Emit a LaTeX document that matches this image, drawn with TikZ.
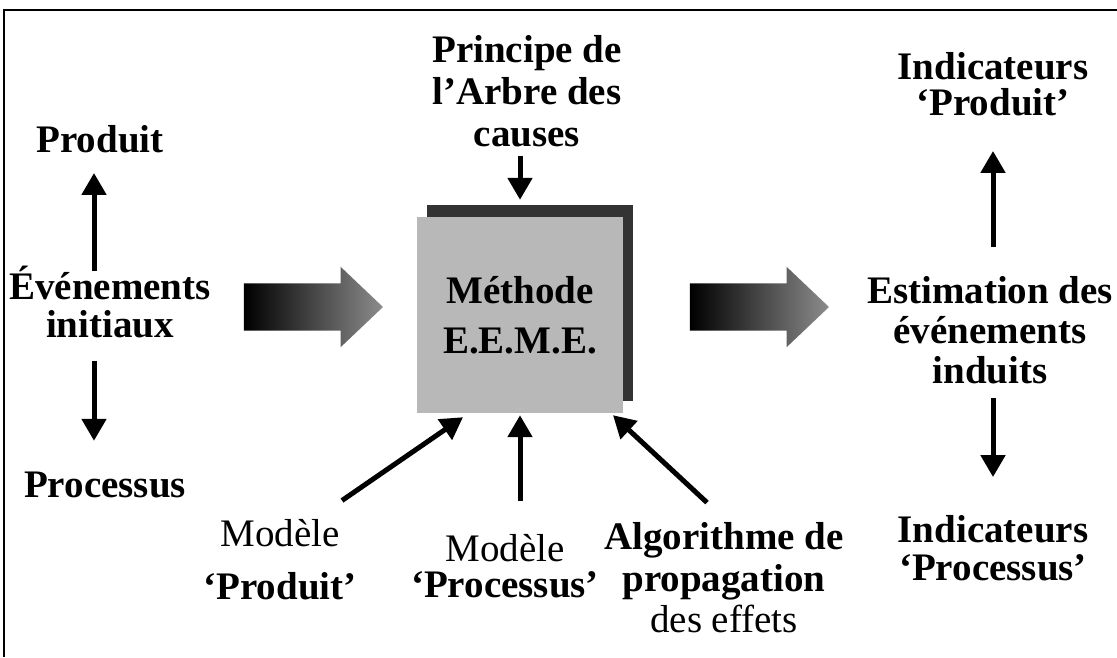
\documentclass[tikz,border=0pt]{standalone}
\usepackage{fontspec}
\setmainfont{Liberation Serif}
\usetikzlibrary{arrows.meta,shapes.arrows,shadows}

\tikzset{
	txt/.style={align=center, inner sep=2pt, font=\fontsize{39}{42}\selectfont\bfseries},
	fl/.style={line width=5pt, -{Triangle[length=22pt,width=24pt]}},
	gros/.style={single arrow, minimum height=139pt, minimum width=80pt,
		single arrow head extend=16.5pt, single arrow tip angle=87,
		inner xsep=0pt, inner ysep=23.5pt,
		left color=black, right color=black!45},
	eeme/.style={rectangle, fill=black!28, minimum width=206pt, minimum height=196pt,
		inner sep=0pt, align=center, font=\fontsize{39}{50}\selectfont\bfseries,
		drop shadow={shadow xshift=10pt, shadow yshift=12pt, fill=black!80, opacity=1}}
}

\begin{document}
\begin{tikzpicture}[x=1pt,y=-1pt]
		\useasboundingbox (0,0) rectangle (1117,657);
		\draw[line width=1.5pt] (1117,10) -- (4,10) -- (4,657);
		\coordinate (LC) at (94,0);
		\coordinate (RC) at (993,0);

		% colonne de gauche
		\node[txt] (PROD) at (100,139) {Produit};
		\node[txt, font=\fontsize{39}{37}\selectfont\bfseries] (EVT) at (110,302) {Événements\\initiaux};
		\node[txt] (PROC) at (105,485) {Processus};

		% methode
		\node[txt] (PRIN) at (527,91) {Principe de\\l’Arbre des\\causes};
		\node[eeme] (BOX) at (520,315) {Méthode\\E.E.M.E.};
		\node[gros] (AL) at (301,307) {};
		\node[gros] (AR) at (747,307) {};

		% colonne de droite
		\node[txt, font=\fontsize{39}{36}\selectfont\bfseries] (INDPROD) at (993,84) {Indicateurs\\‘Produit’};
		\node[txt, font=\fontsize{39}{40}\selectfont\bfseries] (ESTIM) at (990,330) {Estimation des\\événements\\induits};
		\node[txt, font=\fontsize{39}{38}\selectfont\bfseries] (INDPROC) at (993,548) {Indicateurs\\‘Processus’};

		% modeles
		\node[txt, font=\fontsize{39}{53}\selectfont] (MODPROD) at (280,560) {Modèle\\\textbf{‘Produit’}};
		\node[txt, font=\fontsize{39}{36}\selectfont] (MODPROC) at (505,566) {Modèle\\\textbf{‘Processus’}};
		\node[txt, font=\fontsize{39}{41.5}\selectfont] (ALGO) at (724,578) {\textbf{Algorithme de}\\\textbf{propagation}\\des effets};

		\draw[fl, shorten <=-7pt, shorten >=18pt] (EVT.north -| LC) -- (PROD.south -| LC);
		\draw[fl, shorten <=21pt, shorten >=29pt] (EVT.south -| LC) -- (PROC.north -| LC);
		\draw[fl, shorten <=7pt, shorten >=17pt] (PRIN.south -| BOX.north) -- (BOX.north);
		\draw[fl, shorten <=27pt, shorten >=33pt] (ESTIM.north -| RC) -- (INDPROD.south -| RC);
		\draw[fl, shorten <=12pt, shorten >=36pt] (ESTIM.south -| RC) -- (INDPROC.north -| RC);
		\draw[fl] ([xshift=62pt,yshift=17pt]MODPROD.north) -- ([xshift=-57pt,yshift=-4pt]BOX.south);
		\draw[fl, shorten <=31pt, shorten >=2pt] (BOX.south |- MODPROC.north) -- (BOX.south);
		\draw[fl] ([xshift=-17pt,yshift=18pt]ALGO.north) -- ([xshift=93pt,yshift=-2pt]BOX.south);
\end{tikzpicture}
\end{document}
